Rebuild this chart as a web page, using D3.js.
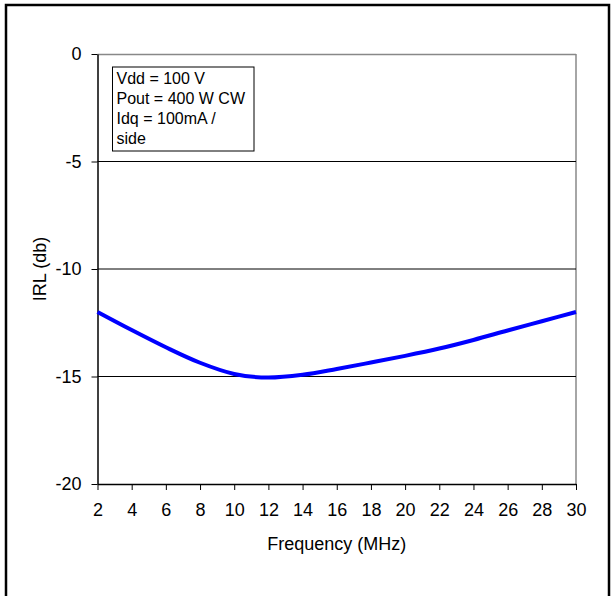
<!DOCTYPE html>
<html lang="en">
<head>
    <meta charset="UTF-8">
    <title>IRL vs Frequency</title>
    <style>
        body { margin: 0; background: #fff; }
        text { font-family: "Liberation Sans", Arial, sans-serif; fill: #000; }
    </style>
</head>
<body>
    <script src="https://d3js.org/d3.v7.min.js"></script>
    <div id="container"></div>
    <script>
        // data
        var freq = [2, 4, 6, 8, 10, 12, 14, 16, 18, 20, 22, 24, 26, 28, 30];
        var irl = [-12.0, -12.84, -13.64, -14.36, -14.88, -15.05, -14.92, -14.65, -14.35, -14.04, -13.7, -13.3, -12.86, -12.43, -12.0];
        var xTicks = [2, 4, 6, 8, 10, 12, 14, 16, 18, 20, 22, 24, 26, 28, 30];
        var yTicks = [0, -5, -10, -15, -20];
        var gridValues = [-5, -10, -15];
        var legendLines = ["Vdd = 100 V", "Pout = 400 W CW", "Idq = 100mA /", "side"];

        var W = 615, H = 596;
        var margin = {top: 54, bottom: 112, left: 97.5, right: 39};
        var width = W - margin.left - margin.right;
        var height = H - margin.top - margin.bottom;

        var x = d3.scaleLinear().domain([2, 30]).range([0, width]);
        var y = d3.scaleLinear().domain([-20, 0]).range([height, 0]);

        var svg = d3.select("#container").append("svg").attr("width", W).attr("height", H);

        // outer frame
        svg.append("rect").attr("x", 6).attr("y", 5).attr("width", 603).attr("height", 600)
            .attr("fill", "none").attr("stroke", "#000").attr("stroke-width", 2.5);

        var g = svg.append("g").attr("transform", `translate(${margin.left},${margin.top})`);

        // top and right border of plot area (gray)
        g.append("line").attr("x1", 0).attr("x2", width).attr("y1", 0.5).attr("y2", 0.5)
            .attr("stroke", "#888").attr("stroke-width", 1.5);
        g.append("line").attr("x1", width).attr("x2", width).attr("y1", 0).attr("y2", height)
            .attr("stroke", "#888").attr("stroke-width", 1.5);

        // grid lines
        g.selectAll(".grid").data(gridValues).enter().append("line")
            .attr("class", "grid")
            .attr("x1", 0).attr("x2", width)
            .attr("y1", d => y(d)).attr("y2", d => y(d))
            .attr("stroke", "#000").attr("stroke-width", 1);

        // axes
        var fmt = d => String(d);
        var xAxis = g.append("g").attr("transform", `translate(0,${height})`)
            .call(d3.axisBottom(x).tickValues(xTicks).tickFormat(fmt).tickSizeInner(6).tickSizeOuter(0).tickPadding(13));
        var yAxis = g.append("g")
            .call(d3.axisLeft(y).tickValues(yTicks).tickFormat(fmt).tickSizeInner(6).tickSizeOuter(0).tickPadding(10));

        [xAxis, yAxis].forEach(a => {
            a.select(".domain").attr("stroke", "#000").attr("stroke-width", 1.5);
            a.selectAll(".tick line").attr("stroke", "#000").attr("stroke-width", 1);
            a.selectAll(".tick text").style("font-family", '"Liberation Sans", Arial, sans-serif')
                .style("font-size", "18px").attr("fill", "#000");
        });

        // series
        var data = freq.map((f, i) => ({f: f, v: irl[i]}));
        g.append("path").datum(data)
            .attr("fill", "none").attr("stroke", "#0000ff").attr("stroke-width", 4)
            .attr("d", d3.line().x(d => x(d.f)).y(d => y(d.v)).curve(d3.curveMonotoneX));

        // legend box
        var leg = g.append("g").attr("transform", "translate(15,13)");
        leg.append("rect").attr("x", 0).attr("y", 0).attr("width", 141.5).attr("height", 84)
            .attr("fill", "#fff").attr("stroke", "#000").attr("stroke-width", 1);
        leg.selectAll("text").data(legendLines).enter().append("text")
            .attr("x", 4).attr("y", (d, i) => 17 + i * 20)
            .style("font-size", "16px").text(d => d);

        // axis titles
        svg.append("text").attr("x", margin.left + width / 2).attr("y", 550)
            .attr("text-anchor", "middle").style("font-size", "18px").text("Frequency (MHz)");
        svg.append("text").attr("transform", `translate(46,${margin.top + height / 2}) rotate(-90)`)
            .attr("text-anchor", "middle").style("font-size", "18px").text("IRL (db)");
    </script>
</body>
</html>
